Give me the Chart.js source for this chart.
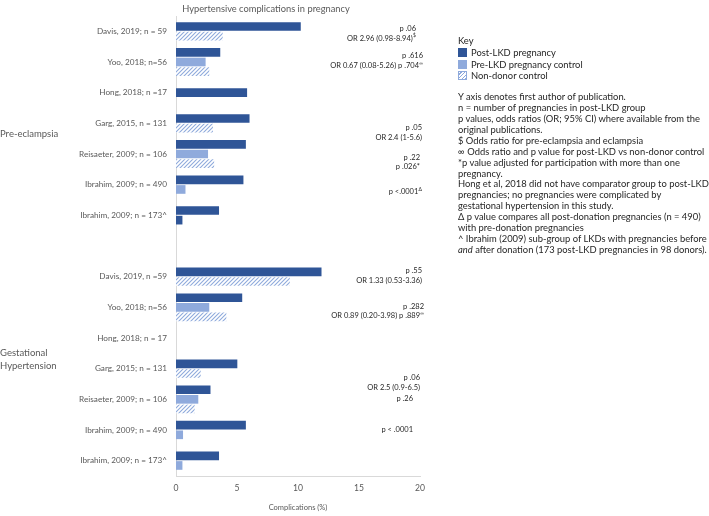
<!DOCTYPE html>
<html>
<head>
<meta charset="utf-8">
<script src="https://cdn.jsdelivr.net/npm/chart.js@4.4.0/dist/chart.umd.min.js"></script>
<style>
  body { margin: 0; background: #fff; }
  #wrap { position: relative; width: 709px; height: 516px; }
  #key { position: absolute; left: 458px; top: 35px; font-family: Lato, sans-serif; font-size: 9.4px; color: #262626; white-space: nowrap; }
  #key .k { line-height: 11.8px; }
  #key .n { line-height: 10.9px; }
  #key .sw { display: inline-block; width: 9px; height: 9px; margin-right: 4px; vertical-align: -1px; }
  #key .gap { height: 10px; }
</style>
</head>
<body>
<div id="wrap">
  <canvas id="chart"></canvas>
  <div id="key"></div>
</div>
<script>
const chartTitle = 'Hypertensive complications in pregnancy';
const categories = [
    'Davis, 2019; n = 59', 'Yoo, 2018; n=56', 'Hong, 2018; n =17', 'Garg, 2015, n = 131',
    'Reisaeter, 2009; n = 106', 'Ibrahim, 2009; n = 490', 'Ibrahim, 2009; n = 173^', '',
    'Davis, 2019, n =59', 'Yoo, 2018; n=56', 'Hong, 2018; n = 17', 'Garg, 2015; n = 131',
    'Reisaeter, 2009; n = 106', 'Ibrahim, 2009; n = 490', 'Ibrahim, 2009; n = 173^'
];
const seriesNames = ['Post-LKD pregnancy', 'Pre-LKD pregnancy control', 'Non-donor control'];
const postLKD  = [10.2, 3.6, 5.8, 6.0, 5.7, 5.5, 3.5, null, 11.9, 5.4, null, 5.0, 2.8, 5.7, 3.5];
const preLKD   = [null, 2.4, null, null, 2.6, 0.75, 0.5, null, null, 2.7, null, null, 1.8, 0.55, 0.5];
const nonDonor = [3.8, 2.7, null, 3.0, 3.1, null, null, null, 9.3, 4.1, null, 2.0, 1.5, null, null];
const xTicks = [0, 5, 10, 15, 20];
const xTitle = 'Complications (%)';

// group labels on the far left (first and last category index)
const groupLabels = [['Pre-eclampsia'], ['Gestational', 'Hypertension']];
const groupSpans = [[0, 7], [8, 14]];
const groupNudge = [-5, -9.5];

// p values / odds ratios, by category index; each line is [text, superscript]
const noteRows = [0, 1, 3, 4, 5, 8, 9, 11, 12, 13];
const noteLines = [
    [['p .06'], ['OR 2.96 (0.98-8.94)', '$']],
    [['p .616'], ['OR 0.67 (0.08-5.26) p .704', '\u221e']],
    [['p .05'], ['OR 2.4 (1-5.6)']],
    [['p .22'], ['p .026*']],
    [['p <.0001', '\u0394']],
    [['p .55'], ['OR 1.33 (0.53-3.36)']],
    [['p .282'], ['OR 0.89 (0.20-3.98) p .889', '\u221e']],
    [['p .06'], ['OR 2.5 (0.9-6.5)']],
    [['p .26']],
    [['p < .0001']]
];
// placement of each note block: [dx from plot right, dy from category centre]
const notePlace = [[-4, -2.5], [3, -6], [2, 4.6], [0, 3.3], [2, 7], [2, -6], [4, -1], [0, 9], [-7, -1], [-7, 0]];

const keyNotes = [
    'Y axis denotes first author of publication.',
    'n = number of pregnancies in post-LKD group',
    'p values, odds ratios (OR; 95% CI) where available from the',
    'original publications.',
    '$ Odds ratio for pre-eclampsia and eclampsia',
    '\u221e Odds ratio and p value for post-LKD vs non-donor control',
    '*p value adjusted for participation with more than one',
    'pregnancy.',
    'Hong et al, 2018 did not have comparator group to post-LKD',
    'pregnancies; no pregnancies were complicated by',
    'gestational hypertension in this study.',
    '\u0394 p value compares all post-donation pregnancies (n = 490)',
    'with pre-donation pregnancies',
    '^ Ibrahim (2009) sub-group of LKDs with pregnancies before',
    '<i>and</i> after donation (173 post-LKD pregnancies in 98 donors).'
];

const DARK = '#2F5597';
const LIGHT = '#8FAADC';
const FONT = 'Lato, sans-serif';

function hatch(color) {
    const c = document.createElement('canvas');
    c.width = c.height = 4;
    const g = c.getContext('2d');
    g.fillStyle = '#fff';
    g.fillRect(0, 0, 4, 4);
    g.strokeStyle = color;
    g.lineWidth = 1.1;
    g.beginPath();
    g.moveTo(0, 4); g.lineTo(4, 0);
    g.moveTo(-1, 1); g.lineTo(1, -1);
    g.moveTo(3, 5); g.lineTo(5, 3);
    g.stroke();
    return g.createPattern(c, 'repeat');
}

// key + notes on the right
const swatches = [
    `background:${DARK}`,
    `background:${LIGHT}`,
    `background:repeating-linear-gradient(135deg, ${LIGHT} 0 1px, #fff 1px 2.6px); outline:1px solid ${LIGHT}; outline-offset:-1px`
];
let keyHtml = '<div class="k">Key</div>';
seriesNames.forEach((n, i) => keyHtml += `<div class="k"><span class="sw" style="${swatches[i]}"></span>${n}</div>`);
keyHtml += '<div class="gap"></div>';
keyNotes.forEach(l => keyHtml += `<div class="n">${l}</div>`);
document.getElementById('key').innerHTML = keyHtml;

const textPlugin = {
    id: 'textPlugin',
    afterDraw(chart) {
        const { ctx, chartArea, scales: { y } } = chart;
        ctx.save();
        ctx.textBaseline = 'middle';

        ctx.fillStyle = '#595959';
        ctx.font = `9.3px ${FONT}`;
        ctx.textAlign = 'center';
        ctx.fillText(chartTitle, 266, 9);

        ctx.textAlign = 'left';
        ctx.font = `9.5px ${FONT}`;
        groupLabels.forEach((g, i) => {
            const mid = (y.getPixelForValue(groupSpans[i][0]) + y.getPixelForValue(groupSpans[i][1])) / 2 + groupNudge[i];
            g.forEach((line, k) => ctx.fillText(line, 0, mid + (k - (g.length - 1) / 2) * 13));
        });

        ctx.fillStyle = '#262626';
        noteRows.forEach((row, i) => {
            const x = chartArea.right + notePlace[i][0];
            let yy = y.getPixelForValue(row) + notePlace[i][1];
            noteLines[i].forEach(([txt, sup]) => {
                let right = x;
                ctx.textAlign = 'right';
                if (sup) {
                    ctx.font = `5px ${FONT}`;
                    ctx.fillText(sup, right, yy - 2.5);
                    right -= ctx.measureText(sup).width + 0.3;
                }
                ctx.font = `7.5px ${FONT}`;
                ctx.fillText(txt, right, yy);
                yy += 9.5;
            });
        });
        ctx.restore();
    }
};

new Chart(document.getElementById('chart'), {
    type: 'bar',
    data: {
        labels: categories,
        datasets: [
            { label: seriesNames[0], data: postLKD, backgroundColor: DARK },
            // the reference shows the small Ibrahim n = 173 pre-eclampsia control bar in dark blue
            { label: seriesNames[1], data: preLKD, backgroundColor: c => (c.dataIndex === 6 ? DARK : LIGHT) },
            { label: seriesNames[2], data: nonDonor, backgroundColor: hatch(LIGHT) }
        ]
    },
    options: {
        indexAxis: 'y',
        responsive: true,
        maintainAspectRatio: false,
        animation: false,
        datasets: { bar: { skipNull: true, barThickness: 9.6, maxBarThickness: 8 } },
        layout: { padding: { top: 16, right: 289, bottom: 4, left: 0 } },
        plugins: { legend: { display: false }, tooltip: { enabled: false }, title: { display: false } },
        scales: {
            x: {
                min: 0, max: 20,
                afterBuildTicks: s => { s.ticks = xTicks.map(v => ({ value: v })); },
                afterFit: s => { s.height = 36; },
                grid: { display: false, drawTicks: false },
                border: { color: '#d9d9d9' },
                ticks: { color: '#595959', font: { family: FONT, size: 8.6 }, padding: 7 },
                title: { display: true, text: xTitle, color: '#595959', font: { family: FONT, size: 7.5 }, padding: { top: 4, bottom: 0 } }
            },
            y: {
                afterFit: s => { s.width = 176; },
                grid: { display: false, drawTicks: false },
                border: { color: '#d9d9d9' },
                ticks: { color: '#595959', font: { family: FONT, size: 8.2 }, padding: 9, autoSkip: false }
            }
        }
    },
    plugins: [textPlugin]
});
</script>
</body>
</html>
